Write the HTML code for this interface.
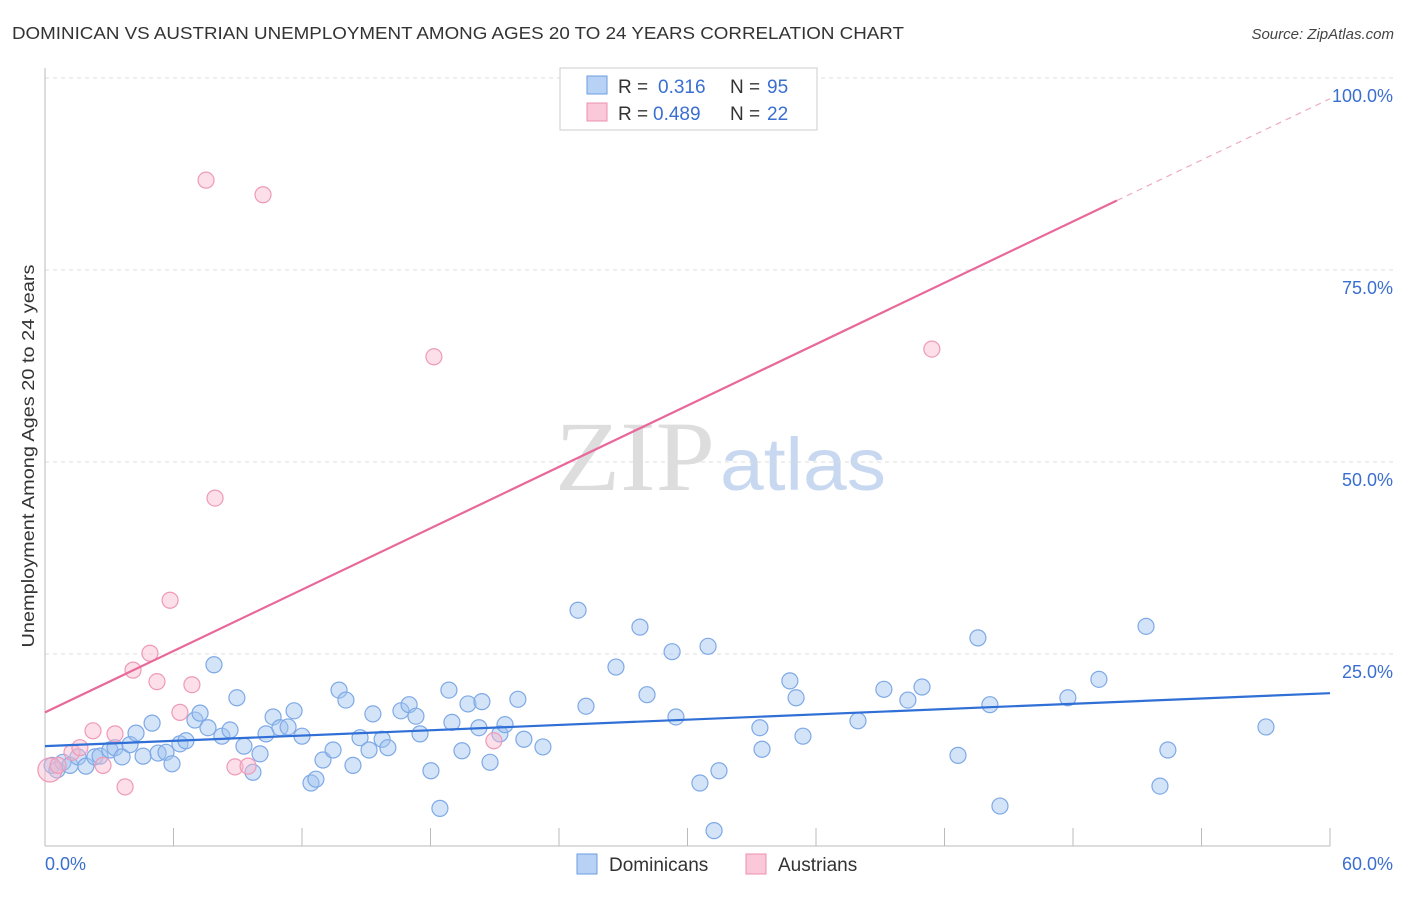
<!DOCTYPE html>
<html><head><meta charset="utf-8"><style>
body{margin:0;background:#fff;font-family:"Liberation Sans",sans-serif;}
svg text{font-family:"Liberation Sans",sans-serif;}
</style></head><body>
<svg id="chart" width="1406" height="892" xmlns="http://www.w3.org/2000/svg">
<text x="12" y="39" font-size="17.5" fill="#333" textLength="892" lengthAdjust="spacingAndGlyphs">DOMINICAN VS AUSTRIAN UNEMPLOYMENT AMONG AGES 20 TO 24 YEARS CORRELATION CHART</text>
<text x="1394" y="39" font-size="15" fill="#444" text-anchor="end" font-style="italic">Source: ZipAtlas.com</text>
<g>
<text x="555" y="490" font-size="100" fill="#ddd" textLength="160" lengthAdjust="spacingAndGlyphs" style="font-family:'Liberation Serif',serif">ZIP</text>
<text x="720" y="490" font-size="74" fill="#c8d8f0" textLength="166" lengthAdjust="spacingAndGlyphs">atlas</text>
</g>
<g id="grid"></g>
<g id="axes"></g>
<g id="marks"></g>
<text transform="translate(34,456) rotate(-90)" font-size="17.5" fill="#333" text-anchor="middle" textLength="383" lengthAdjust="spacingAndGlyphs">Unemployment Among Ages 20 to 24 years</text>
<g>
<rect x="560" y="68" width="257" height="62" fill="#fff" stroke="#ccc"/>
<rect x="587" y="76" width="20" height="18" fill="#b8d2f5" stroke="#6b9ee0"/>
<rect x="587" y="103" width="20" height="18" fill="#fac8d8" stroke="#eb8fb0"/>
<text x="618" y="93" font-size="19" fill="#333">R =</text>
<text x="658" y="93" font-size="19" fill="#3a6fd0">0.316</text>
<text x="730" y="93" font-size="19" fill="#333">N =</text>
<text x="767" y="93" font-size="19" fill="#3a6fd0">95</text>
<text x="618" y="120" font-size="19" fill="#333">R =</text>
<text x="653" y="120" font-size="19" fill="#3a6fd0">0.489</text>
<text x="730" y="120" font-size="19" fill="#333">N =</text>
<text x="767" y="120" font-size="19" fill="#3a6fd0">22</text>
</g>
<g>
<rect x="577" y="854" width="20" height="20" fill="#b8d2f5" stroke="#6b9ee0"/>
<text x="609" y="871" font-size="19" fill="#333">Dominicans</text>
<rect x="746" y="854" width="20" height="20" fill="#fac8d8" stroke="#eb8fb0"/>
<text x="778" y="871" font-size="19" fill="#333">Austrians</text>
</g>
</svg>
<script>
const blueX=[0.33,0.56,0.84,1.17,1.54,1.91,2.33,2.57,3.03,3.27,3.6,3.97,4.25,4.58,5.0,5.28,5.65,5.93,6.3,6.58,7.0,7.24,7.61,7.89,8.26,8.64,8.96,9.29,9.71,10.04,10.32,10.65,10.97,11.35,11.63,12.0,12.42,12.65,12.98,13.45,13.73,14.05,14.38,14.71,15.13,15.31,15.74,16.01,16.62,17.0,17.32,17.51,18.02,18.44,18.86,19.0,19.47,19.75,20.26,20.4,20.78,21.24,21.48,22.08,22.36,23.25,24.89,25.26,26.66,27.78,28.11,29.28,29.46,30.58,30.96,31.24,31.47,33.38,33.48,34.78,35.07,35.39,37.96,39.17,40.29,40.95,42.63,43.56,44.12,44.59,47.76,49.21,51.41,52.06,52.43,57.01];
const blueY=[10.5,9.9,10.9,10.5,11.6,10.4,11.6,11.7,12.5,12.8,11.6,13.2,14.7,11.7,16.0,12.1,12.2,10.7,13.3,13.7,16.4,17.3,15.4,23.6,14.3,15.1,19.3,13.0,9.6,12.0,14.6,16.8,15.4,15.5,17.6,14.3,8.2,8.7,11.2,12.5,20.3,19.0,10.5,14.1,12.5,17.2,13.9,12.8,17.6,18.4,16.9,14.6,9.8,4.9,20.3,16.1,12.4,18.5,15.4,18.8,10.9,14.6,15.8,19.1,13.9,12.9,30.7,18.2,23.3,28.5,19.7,25.3,16.8,8.2,26.0,2.0,9.8,15.4,12.6,21.5,19.3,14.3,16.3,20.4,19.0,20.7,11.8,27.1,18.4,5.2,19.3,21.7,28.6,7.8,12.5,15.5];
const pinkX=[0.23,0.61,1.26,1.63,2.24,2.71,3.27,3.74,4.11,4.9,5.23,5.84,6.3,6.86,7.52,7.94,8.87,9.48,10.18,18.16,20.96,41.41];
const pinkY=[9.9,10.5,12.2,12.8,15.0,10.5,14.6,7.7,22.9,25.1,21.4,32.0,17.4,21.0,86.7,45.3,10.3,10.4,84.8,63.7,13.7,64.7];
const blueTrend=[13.0,19.9];
const pinkTrend=[17.4,97.3];
const pinkSolidEnd=50.05;
const yTicks=[25,50,75,100];
const yTickLabels=["25.0%","50.0%","75.0%","100.0%"];
const xTicks=[0,6,12,18,24,30,36,42,48,54,60];
const NS="http://www.w3.org/2000/svg";
const sx=v=>45+v/60*1285;
const sy=v=>846-v*7.68;
function mk(p,tag,a){const e=document.createElementNS(NS,tag);for(const k in a)e.setAttribute(k,a[k]);p.appendChild(e);return e;}
const grid=document.getElementById('grid'),axes=document.getElementById('axes'),marks=document.getElementById('marks');
yTicks.forEach((t,i)=>{
 const l=mk(grid,'line',{x1:45,x2:1393,y1:sy(t),y2:sy(t),stroke:'#ddd','stroke-dasharray':'4,4'});
 
 
 const tx=mk(axes,'text',{x:1393,y:sy(t)+24,'font-size':18,fill:'#3a6fd0','text-anchor':'end'});
 tx.textContent=yTickLabels[i];
 
 
});
const ax=mk(axes,'line',{x1:45,x2:45,y1:68,y2:846,stroke:'#bbb'});


const bx=mk(axes,'line',{x1:45,x2:1330,y1:846,y2:846,stroke:'#bbb'});


xTicks.forEach(t=>{
 const l=mk(axes,'line',{x1:sx(t),x2:sx(t),y1:828,y2:846,stroke:'#bbb'});
 
 
});
const xl0=mk(axes,'text',{x:45,y:870,'font-size':18,fill:'#3a6fd0'});xl0.textContent='0.0%';


const xl1=mk(axes,'text',{x:1393,y:870,'font-size':18,fill:'#3a6fd0','text-anchor':'end'});xl1.textContent='60.0%';


blueX.forEach((x,i)=>{
 const c=mk(marks,'circle',{cx:sx(x),cy:sy(blueY[i]),r:8,fill:'rgba(160,195,240,0.45)',stroke:'#7ea9e6','stroke-width':1.2});
 
 
});
pinkX.forEach((x,i)=>{
 const c=mk(marks,'circle',{cx:sx(x),cy:sy(pinkY[i]),r:i===0?12:8,fill:'rgba(248,185,205,0.45)',stroke:'#ee9ab8','stroke-width':1.2});
 
 
});
const bt=mk(marks,'line',{x1:sx(0),y1:sy(blueTrend[0]),x2:sx(60),y2:sy(blueTrend[1]),stroke:'#2f6fd6','stroke-width':2.2});


const pm=v=>pinkTrend[0]+(pinkTrend[1]-pinkTrend[0])*v/60;
const pt=mk(marks,'line',{x1:sx(0),y1:sy(pinkTrend[0]),x2:sx(pinkSolidEnd),y2:sy(pm(pinkSolidEnd)),stroke:'#e8689a','stroke-width':2.2});


const pd=mk(marks,'line',{x1:sx(pinkSolidEnd),y1:sy(pm(pinkSolidEnd)),x2:sx(60),y2:sy(pinkTrend[1]),stroke:'#eeaac4','stroke-width':1.2,'stroke-dasharray':'6,5'});


</script>
</body></html>
